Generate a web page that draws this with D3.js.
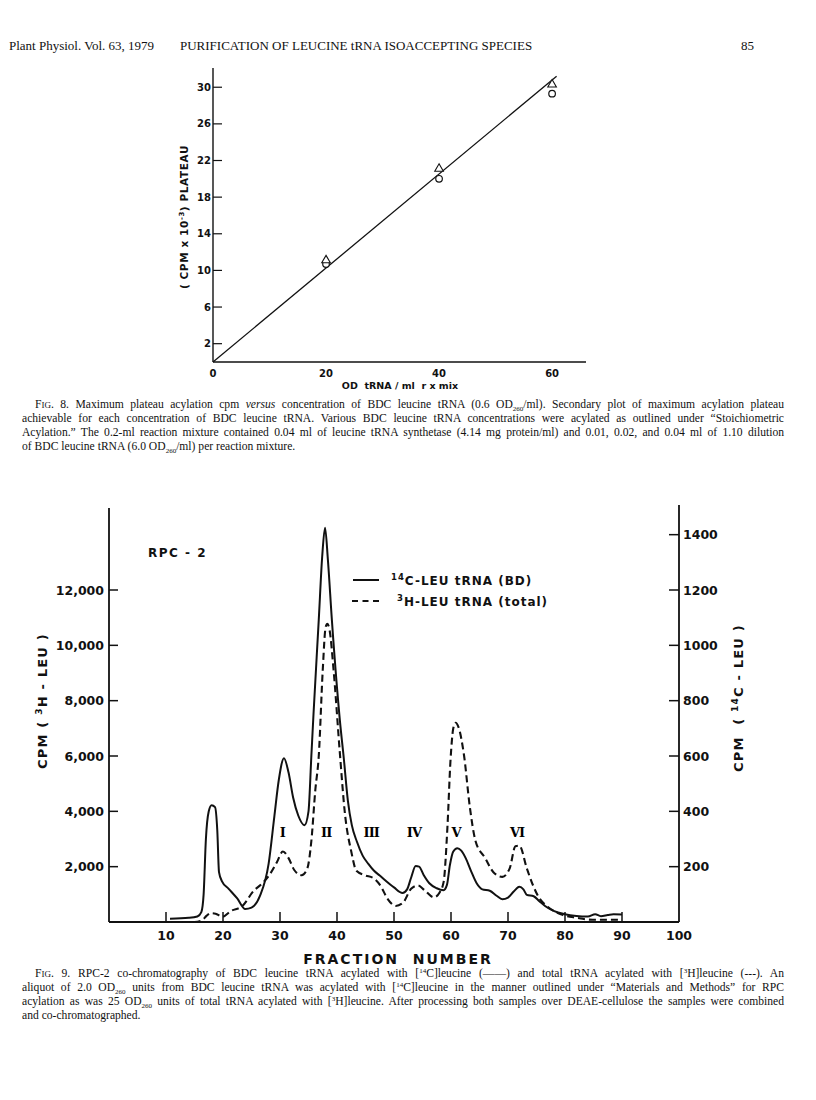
<!DOCTYPE html>
<html>
<head>
<meta charset="utf-8">
<script src="https://cdn.jsdelivr.net/npm/d3@7/dist/d3.min.js"></script>
<style>
  body { margin: 0; background: #fff; }
  svg { display: block; }
  .lab { font-family: "DejaVu Sans", sans-serif; font-weight: bold; fill: #111; }
  .cap { font-family: "Liberation Serif", "Times New Roman", serif; fill: #111; }
</style>
</head>
<body>
<div id="page"></div>
<script>
// ---- Fig. 8 data ----
var fig8X = [20, 40, 60];
var fig8Triangle = [11.1, 21.1, 30.3];
var fig8Circle = [10.7, 20.0, 29.3];
var fig8FitX = [0, 60.8];
var fig8FitY = [0, 31.2];
var fig8YTicks = [2, 6, 10, 14, 18, 22, 26, 30];
var fig8XTicks = [0, 20, 40, 60];

// ---- Fig. 9 data ----
// 14C-LEU tRNA (BD), right axis (cpm)
var fracSolid = [10.7, 14.0, 15.5, 16.2, 16.6, 17.0, 17.5, 18.0, 18.6, 19.0, 19.3, 19.8, 21.0, 22.5, 23.9,
  25.0, 26.5, 28.0, 29.0, 29.8, 30.7, 31.5, 32.3, 33.2, 34.3, 35.0, 35.5, 35.9, 36.8, 37.4, 37.9, 38.4,
  39.1, 40.5, 41.2, 41.9, 42.6, 43.5, 44.5, 45.5, 46.5, 47.5, 48.5, 50.0, 51.5, 52.3, 53.0, 53.8, 54.4,
  55.2, 56.2, 57.5, 58.7, 59.3, 59.8, 60.4, 61.1, 61.8, 62.6, 63.5, 64.5, 65.5, 66.8, 68.0, 69.0, 70.0,
  71.0, 72.0, 72.7, 73.3, 74.5, 75.5, 76.5, 78.0, 80.0, 82.0, 84.0, 85.3, 86.3, 87.5, 88.5, 90.0];
var cpm14C = [12, 15, 20, 36, 100, 300, 400, 422, 415, 330, 180, 148, 120, 85, 47,
  52, 95, 210, 380, 515, 592, 540, 450, 385, 350, 400, 600, 760, 1092, 1320, 1425, 1310,
  1092, 730, 590, 440, 350, 290, 240, 210, 185, 168, 150, 125, 105, 118, 160, 202, 200,
  170, 140, 122, 115, 135, 205, 255, 267, 258, 230, 185, 140, 118, 113, 95, 82, 88,
  110, 127, 118, 98, 93, 75, 58, 40, 28, 22, 20, 28, 21, 25, 28, 27];

// 3H-LEU tRNA (total), left axis (cpm)
var fracDash = [11.0, 15.0, 16.3, 17.1, 17.8, 18.7, 19.9, 21.4, 23.4, 25.4, 26.8, 28.1, 29.5, 30.5, 31.5,
  32.5, 33.8, 34.8, 35.5, 36.2, 36.8, 37.5, 38.0, 38.3, 38.7, 39.4, 40.5, 41.4, 42.5, 43.4, 44.9, 46.5,
  47.6, 48.9, 50.3, 51.6, 53.0, 54.2, 55.4, 57.0, 58.0, 58.7, 59.4, 59.9, 60.4, 60.8, 61.3, 62.3, 63.3,
  64.3, 66.0, 67.4, 69.0, 70.3, 71.3, 72.0, 73.3, 74.4, 75.4, 76.8, 79.4, 82.1, 84.8, 90.0];
var cpm3H = [0, 0, 60, 220, 320, 300, 190, 400, 580, 1130, 1380, 1690, 2180, 2550, 2310,
  1880, 1690, 1940, 2930, 4780, 6000, 9110, 10650, 10780, 10550, 9110, 6110, 3900, 2550, 1850, 1690, 1570,
  1320, 830, 580, 700, 1200, 1320, 1140, 890, 1070, 1440, 3540, 5800, 7000, 7200, 7050, 6000, 4160,
  2930, 2310, 1810, 1630, 1940, 2740, 2760, 1940, 1320, 890, 580, 270, 150, 80, 80];

var leftTicks = [2000, 4000, 6000, 8000, 10000, 12000];
var rightTicks = [200, 400, 600, 800, 1000, 1200, 1400];
var fracTicks = [10, 20, 30, 40, 50, 60, 70, 80, 90, 100];
var peakNames = ["I", "II", "III", "IV", "V", "VI"];
var peakFrac = [30.4, 38.1, 46.0, 53.5, 60.9, 71.6];
var peakLevel = 325;

var width = 816, height = 1100;

var svg = d3.select("#page").append("svg")
  .attr("width", width)
  .attr("height", height);

svg.append("rect").attr("width", width).attr("height", height).attr("fill", "#fff");

// ---- running head ----
var head = svg.append("g").attr("class", "cap").style("font-size", "13px");
head.append("text").attr("x", 9).attr("y", 50).text("Plant Physiol. Vol. 63, 1979");
head.append("text").attr("x", 180).attr("y", 50).text("PURIFICATION OF LEUCINE tRNA ISOACCEPTING SPECIES");
head.append("text").attr("x", 741).attr("y", 50).text("85");

// ================= Fig. 8 =================
var x8 = d3.scaleLinear().domain([0, 66]).range([213, 586]);
var y8 = d3.scaleLinear().domain([0, 32.1]).range([362, 68]);
var g8 = svg.append("g");

g8.append("line").attr("x1", x8(0)).attr("x2", x8(0)).attr("y1", y8(0)).attr("y2", y8(32.1))
  .attr("stroke", "#111").attr("stroke-width", 1.4);
g8.append("line").attr("x1", x8(0)).attr("x2", x8(66)).attr("y1", y8(0)).attr("y2", y8(0))
  .attr("stroke", "#111").attr("stroke-width", 1.4);

g8.selectAll(".yt").data(fig8YTicks).enter().append("line")
  .attr("x1", x8(0)).attr("x2", x8(0) + 9)
  .attr("y1", function (d) { return y8(d); })
  .attr("y2", function (d) { return y8(d); })
  .attr("stroke", "#111").attr("stroke-width", 1.2);

g8.selectAll(".ytl").data(fig8YTicks).enter().append("text")
  .attr("class", "lab")
  .attr("x", x8(0) - 2)
  .attr("y", function (d) { return y8(d) + 3.5; })
  .attr("text-anchor", "end")
  .style("font-size", "10px")
  .text(function (d) { return d; });

g8.selectAll(".xtl").data(fig8XTicks).enter().append("text")
  .attr("class", "lab")
  .attr("x", function (d) { return x8(d); })
  .attr("y", y8(0) + 15)
  .attr("text-anchor", "middle")
  .style("font-size", "10px")
  .text(function (d) { return d; });

g8.append("text").attr("class", "lab")
  .attr("x", 400).attr("y", 389)
  .attr("text-anchor", "middle")
  .style("font-size", "9.5px")
  .attr("xml:space", "preserve")
  .text("OD  tRNA / ml  r x mix");

var yl8 = g8.append("text").attr("class", "lab")
  .attr("transform", "translate(188,217) rotate(-90)")
  .attr("text-anchor", "middle")
  .style("font-size", "10.5px")
  .style("letter-spacing", "0.6px");
yl8.append("tspan").text("( CPM x 10");
yl8.append("tspan").attr("dy", -4).style("font-size", "7px").text("-3");
yl8.append("tspan").attr("dy", 4).text(") PLATEAU");

var fitLine = d3.line().x(function (d) { return x8(d[0]); }).y(function (d) { return y8(d[1]); });
g8.append("path")
  .attr("d", fitLine(d3.zip(fig8FitX, fig8FitY)))
  .attr("fill", "none").attr("stroke", "#111").attr("stroke-width", 1.3);

g8.selectAll(".circ").data(d3.zip(fig8X, fig8Circle)).enter().append("circle")
  .attr("cx", function (d) { return x8(d[0]); })
  .attr("cy", function (d) { return y8(d[1]); })
  .attr("r", 3.3)
  .attr("fill", "#fff").attr("stroke", "#111").attr("stroke-width", 1.2);

var tri = d3.symbol().type(d3.symbolTriangle).size(32);
g8.selectAll(".tri").data(d3.zip(fig8X, fig8Triangle)).enter().append("path")
  .attr("d", tri)
  .attr("transform", function (d) { return "translate(" + x8(d[0]) + "," + y8(d[1]) + ")"; })
  .attr("fill", "#fff").attr("stroke", "#111").attr("stroke-width", 1.1);

// ================= Fig. 9 =================
var x9 = d3.scaleLinear().domain([0, 100]).range([109, 679]);
var yL = d3.scaleLinear().domain([0, 15000]).range([922, 507]);
var yR = d3.scaleLinear().domain([0, 1500]).range([922, 507]);
var g9 = svg.append("g");

g9.append("line").attr("x1", x9(0)).attr("x2", x9(0)).attr("y1", yL(0)).attr("y2", 508)
  .attr("stroke", "#111").attr("stroke-width", 1.8);
g9.append("line").attr("x1", x9(100)).attr("x2", x9(100)).attr("y1", yR(0)).attr("y2", 505)
  .attr("stroke", "#111").attr("stroke-width", 1.8);
g9.append("line").attr("x1", x9(0)).attr("x2", x9(100)).attr("y1", yL(0)).attr("y2", yL(0))
  .attr("stroke", "#111").attr("stroke-width", 1.8);

g9.selectAll(".lt").data(leftTicks).enter().append("line")
  .attr("x1", x9(0)).attr("x2", x9(0) + 9)
  .attr("y1", function (d) { return yL(d); }).attr("y2", function (d) { return yL(d); })
  .attr("stroke", "#111").attr("stroke-width", 1.5);
g9.selectAll(".ltl").data(leftTicks).enter().append("text")
  .attr("class", "lab")
  .attr("x", x9(0) - 5)
  .attr("y", function (d) { return yL(d) + 4.5; })
  .attr("text-anchor", "end")
  .style("font-size", "12.5px")
  .text(function (d) { return d3.format(",")(d); });

g9.selectAll(".rt").data(rightTicks).enter().append("line")
  .attr("x1", x9(100) - 10).attr("x2", x9(100))
  .attr("y1", function (d) { return yR(d); }).attr("y2", function (d) { return yR(d); })
  .attr("stroke", "#111").attr("stroke-width", 1.5);
g9.selectAll(".rtl").data(rightTicks).enter().append("text")
  .attr("class", "lab")
  .attr("x", x9(100) + 4)
  .attr("y", function (d) { return yR(d) + 4.5; })
  .style("font-size", "12.5px")
  .text(function (d) { return d; });

g9.selectAll(".xt").data(fracTicks.slice(0, 9)).enter().append("line")
  .attr("x1", function (d) { return x9(d); }).attr("x2", function (d) { return x9(d); })
  .attr("y1", yL(0)).attr("y2", yL(0) - 10)
  .attr("stroke", "#111").attr("stroke-width", 1.5);
g9.selectAll(".xtl").data(fracTicks).enter().append("text")
  .attr("class", "lab")
  .attr("x", function (d) { return x9(d); })
  .attr("y", 940)
  .attr("text-anchor", "middle")
  .style("font-size", "12.5px")
  .text(function (d) { return d; });

g9.append("text").attr("class", "lab")
  .attr("x", 398).attr("y", 964)
  .attr("text-anchor", "middle")
  .style("font-size", "14px")
  .style("letter-spacing", "2px")
  .attr("xml:space", "preserve")
  .text("FRACTION  NUMBER");

var ylL = g9.append("text").attr("class", "lab")
  .attr("transform", "translate(47,701) rotate(-90)")
  .attr("text-anchor", "middle")
  .style("font-size", "13px")
  .style("letter-spacing", "1.2px")
  .attr("xml:space", "preserve");
ylL.append("tspan").text("CPM ( ");
ylL.append("tspan").attr("dy", -5).style("font-size", "9px").text("3");
ylL.append("tspan").attr("dy", 5).text("H - LEU )");

var ylR = g9.append("text").attr("class", "lab")
  .attr("transform", "translate(743,698) rotate(-90)")
  .attr("text-anchor", "middle")
  .style("font-size", "13px")
  .style("letter-spacing", "1.2px")
  .attr("xml:space", "preserve");
ylR.append("tspan").text("CPM  ( ");
ylR.append("tspan").attr("dy", -5).style("font-size", "9px").text("14");
ylR.append("tspan").attr("dy", 5).text("C - LEU )");

g9.append("text").attr("class", "lab")
  .attr("x", 148).attr("y", 557)
  .style("font-size", "12px")
  .style("letter-spacing", "1.5px")
  .attr("xml:space", "preserve")
  .text("RPC - 2");

var lineSolid = d3.line()
  .x(function (d) { return x9(d[0]); })
  .y(function (d) { return yR(d[1]); })
  .curve(d3.curveMonotoneX);
var lineDash = d3.line()
  .x(function (d) { return x9(d[0]); })
  .y(function (d) { return yL(d[1]); })
  .curve(d3.curveMonotoneX);

g9.append("path")
  .attr("d", lineDash(d3.zip(fracDash, cpm3H)))
  .attr("fill", "none").attr("stroke", "#111").attr("stroke-width", 2.1)
  .attr("stroke-dasharray", "7,4");
g9.append("path")
  .attr("d", lineSolid(d3.zip(fracSolid, cpm14C)))
  .attr("fill", "none").attr("stroke", "#111").attr("stroke-width", 2)
  .attr("stroke-linejoin", "round");

g9.selectAll(".pk").data(d3.zip(peakFrac, peakNames)).enter().append("text")
  .attr("x", function (d) { return x9(d[0]); })
  .attr("y", yR(peakLevel) + 5)
  .attr("text-anchor", "middle")
  .style("font-family", "'DejaVu Serif', serif")
  .style("font-weight", "bold")
  .style("font-size", "13px")
  .style("letter-spacing", "-1px")
  .text(function (d) { return d[1]; });

// legend
var leg = g9.append("g");
leg.append("line").attr("x1", 353).attr("x2", 379).attr("y1", 580).attr("y2", 580)
  .attr("stroke", "#111").attr("stroke-width", 2);
leg.append("line").attr("x1", 352).attr("x2", 379).attr("y1", 601).attr("y2", 601)
  .attr("stroke", "#111").attr("stroke-width", 2).attr("stroke-dasharray", "6,4.5");
var l1 = leg.append("text").attr("class", "lab").attr("x", 391).attr("y", 585)
  .style("font-size", "12px").style("letter-spacing", "1px").attr("xml:space", "preserve");
l1.append("tspan").attr("dy", -5).style("font-size", "8.5px").text("14");
l1.append("tspan").attr("dy", 5).text("C-LEU tRNA (BD)");
var l2 = leg.append("text").attr("class", "lab").attr("x", 397).attr("y", 606)
  .style("font-size", "12px").style("letter-spacing", "1px").attr("xml:space", "preserve");
l2.append("tspan").attr("dy", -5).style("font-size", "8.5px").text("3");
l2.append("tspan").attr("dy", 5).text("H-LEU tRNA (total)");

// ================= captions =================
function seg(t, k) { return { t: t, k: k || "" }; }

var cap8 = [
  [seg("F"), seg("IG", "sc"), seg(". 8. Maximum plateau acylation cpm "), seg("versus", "it"),
    seg(" concentration of BDC leucine tRNA (0.6 OD"), seg("260", "sub"),
    seg("/ml). Secondary plot of maximum acylation plateau")],
  [seg("achievable for each concentration of BDC leucine tRNA. Various BDC leucine tRNA concentrations were acylated as outlined under \u201cStoichiometric")],
  [seg("Acylation.\u201d The 0.2-ml reaction mixture contained 0.04 ml of leucine tRNA synthetase (4.14 mg protein/ml) and 0.01, 0.02, and 0.04 ml of 1.10 dilution")],
  [seg("of BDC leucine tRNA (6.0 OD"), seg("260", "sub"), seg("/ml) per reaction mixture.")]
];
var cap9 = [
  [seg("F"), seg("IG", "sc"), seg(". 9. RPC-2 co-chromatography of BDC leucine tRNA acylated with ["), seg("14", "sup"),
    seg("C]leucine (\u2014\u2014) and total tRNA acylated with ["), seg("3", "sup"), seg("H]leucine (---). An")],
  [seg("aliquot of 2.0 OD"), seg("260", "sub"), seg(" units from BDC leucine tRNA was acylated with ["), seg("14", "sup"),
    seg("C]leucine in the manner outlined under \u201cMaterials and Methods\u201d for RPC")],
  [seg("acylation as was 25 OD"), seg("260", "sub"), seg(" units of total tRNA acylated with ["), seg("3", "sup"),
    seg("H]leucine. After processing both samples over DEAE-cellulose the samples were combined")],
  [seg("and co-chromatographed.")]
];

function drawCaption(lines, top) {
  lines.forEach(function (segs, i) {
    var x0 = i === 0 ? 35 : 22;
    var t = svg.append("text").attr("class", "cap")
      .attr("x", x0).attr("y", top + i * 14)
      .style("font-size", "11.6px")
      .attr("xml:space", "preserve");
    var shift = 0;
    segs.forEach(function (s) {
      var ts = t.append("tspan").text(s.t);
      var want = 0;
      if (s.k === "sub") { want = 2.5; ts.style("font-size", "7px"); }
      if (s.k === "sup") { want = -4; ts.style("font-size", "7px"); }
      if (s.k === "sc") { ts.style("font-size", "9px"); }
      if (s.k === "it") { ts.style("font-style", "italic"); }
      if (want !== shift) { ts.attr("dy", want - shift); shift = want; }
    });
    if (i < lines.length - 1) {
      var full = segs.map(function (s) { return s.t; }).join("");
      var spaces = full.split(" ").length - 1;
      var natural = t.node().getComputedTextLength();
      var target = 784 - x0;
      if (spaces > 0) t.style("word-spacing", ((target - natural) / spaces) + "px");
    }
  });
}
drawCaption(cap8, 408);
drawCaption(cap9, 977);
</script>
</body>
</html>
